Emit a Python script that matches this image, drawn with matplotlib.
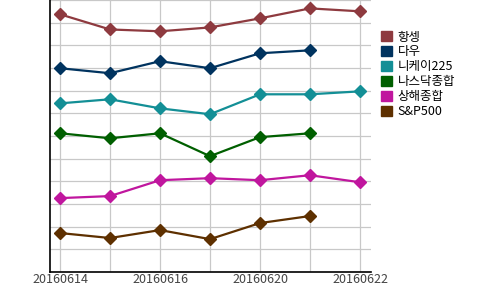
import matplotlib.pyplot as plt

plt.rcParams['font.family'] = ['Noto Sans CJK KR', 'DejaVu Sans']

# dates on the x axis (categorical)
dates = ["20160614", "20160615", "20160616", "20160617", "20160620", "20160621", "20160622"]
tick_labels = ["20160614", "", "20160616", "", "20160620", "", "20160622"]

# series values (relative scale)
hangseng = [11.37, 10.70, 10.62, 10.79, 11.19, 11.63, 11.50]
dow = [8.99, 8.77, 9.30, 8.99, 9.65, 9.78, None]
nikkei = [7.44, 7.62, 7.22, 6.96, 7.84, 7.84, 7.97]
nasdaq = [6.12, 5.90, 6.12, 5.11, 5.95, 6.12, None]
shanghai = [3.26, 3.35, 4.05, 4.14, 4.05, 4.27, 3.96]
sp500 = [1.72, 1.50, 1.85, 1.45, 2.16, 2.47, None]

names = ["항셍", "다우", "니케이225", "나스닥종합", "상해종합", "S&P500"]
colors = ["#8e3a3f", "#00335f", "#138f96", "#005f00", "#c0169e", "#5e3000"]
series = [hangseng, dow, nikkei, nasdaq, shanghai, sp500]

fig = plt.figure(figsize=(5, 2.9), dpi=100)
ax = fig.add_axes([0.1, 0.062, 0.642, 0.938])

for vals, name, col in zip(series, names, colors):
    xs = [i for i, v in enumerate(vals) if v is not None]
    ys = [v for v in vals if v is not None]
    ax.plot(xs, ys, color=col, lw=1.6, marker='D', markersize=6,
            markeredgecolor=col, label=name)

ax.set_xlim(-0.2, 6.22)
ax.set_ylim(0, 12)
ax.set_xticks(range(len(dates)))
ax.set_xticklabels(tick_labels, fontsize=9, color='#444444')
ax.set_yticks(range(0, 13))
ax.set_yticklabels([])
ax.tick_params(length=0, pad=1)
ax.grid(True, color='#c8c8c8', lw=0.9)
ax.set_axisbelow(True)
for s in ['top', 'right']:
    ax.spines[s].set_visible(False)
for s in ['left', 'bottom']:
    ax.spines[s].set_color('black')
    ax.spines[s].set_linewidth(1.2)

handles = [plt.Rectangle((0, 0), 1, 1, color=c) for c in colors]
fig.legend(handles, names, loc='upper left', bbox_to_anchor=(0.752, 0.912),
           frameon=False, fontsize=9, handlelength=0.85, handleheight=0.85,
           handletextpad=0.5, labelspacing=0.15, borderaxespad=0)

fig.savefig("out.png", dpi=100)
